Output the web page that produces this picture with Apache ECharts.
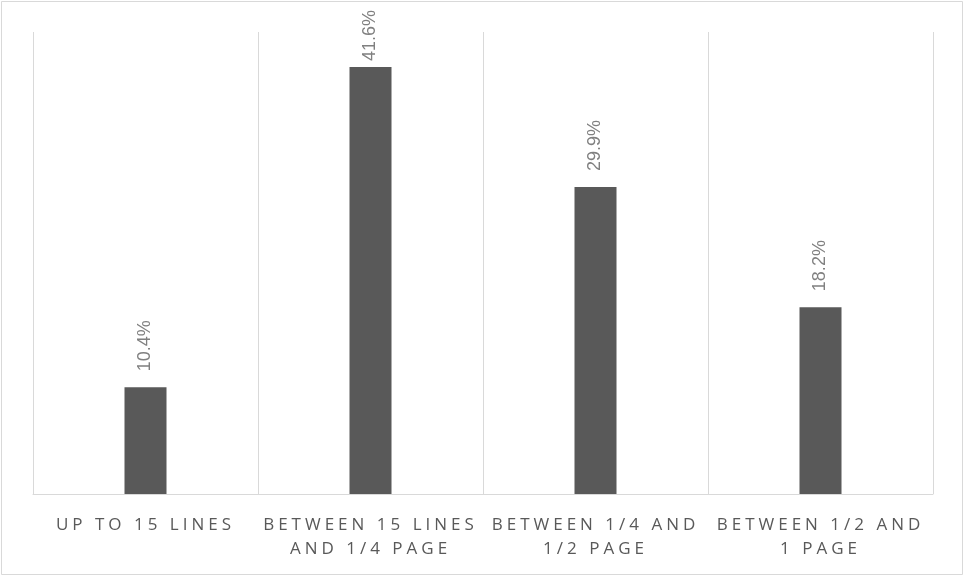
<!DOCTYPE html>
<html>
<head>
<meta charset="utf-8">
<script src="https://cdn.jsdelivr.net/npm/echarts@6/dist/echarts.min.js"></script>
<style>
html,body{margin:0;padding:0;background:#fff;}
#chart{width:965px;height:577px;}
</style>
</head>
<body>
<div id="chart"></div>
<script>
const categories = ['UP TO 15 LINES', 'BETWEEN 15 LINES\nAND 1/4 PAGE', 'BETWEEN 1/4 AND\n1/2 PAGE', 'BETWEEN 1/2 AND\n1 PAGE'];
const values = [10.4, 41.6, 29.9, 18.2];

// spaced-out category labels (letter spacing) for the axis font only
(function(){
  const proto = CanvasRenderingContext2D.prototype;
  const orig = proto.fillText;
  proto.fillText = function(t, x, y, m){
    if ('letterSpacing' in this) {
      this.letterSpacing = this.font.indexOf('Open Sans') >= 0 ? '4px' : '0px';
    }
    return m === undefined ? orig.call(this, t, x, y) : orig.call(this, t, x, y, m);
  };
})();

const LABEL_MIN_TOP = 10;

const chart = echarts.init(document.getElementById('chart'), null, {renderer: 'canvas'});
chart.setOption({
  animation: false,
  backgroundColor: '#ffffff',
  graphic: [{
    type: 'rect',
    shape: {x: 1.5, y: 1.5, width: 961, height: 573},
    style: {fill: 'none', stroke: '#d9d9d9', lineWidth: 1},
    silent: true
  }],
  grid: {left: 33, right: 32, top: 32, bottom: 83},
  xAxis: {
    type: 'category',
    data: categories,
    axisLine: {show: true, lineStyle: {color: '#d9d9d9', width: 1}},
    axisTick: {show: false},
    splitLine: {show: true, lineStyle: {color: '#d9d9d9', width: 1}},
    axisLabel: {
      interval: 0,
      margin: 19,
      color: '#595959',
      fontFamily: 'Open Sans',
      fontSize: 17,
      lineHeight: 24
    }
  },
  yAxis: {
    type: 'value',
    min: 0,
    max: 45,
    show: false,
    splitLine: {show: false}
  },
  series: [{
    type: 'bar',
    data: values,
    barWidth: 42,
    itemStyle: {color: '#595959'},
    label: {
      show: true,
      position: 'top',
      rotate: 90,
      align: 'left',
      verticalAlign: 'middle',
      distance: 16,
      color: '#808080',
      fontFamily: 'Liberation Sans',
      fontSize: 18,
      formatter: function(p){ return p.value.toFixed(1) + '%'; }
    },
    labelLayout: function(p){
      const r = p.labelRect;
      if (r.y < LABEL_MIN_TOP) {
        return {y: r.y + r.height + (LABEL_MIN_TOP - r.y)};
      }
      return {};
    }
  }]
});
</script>
</body>
</html>
